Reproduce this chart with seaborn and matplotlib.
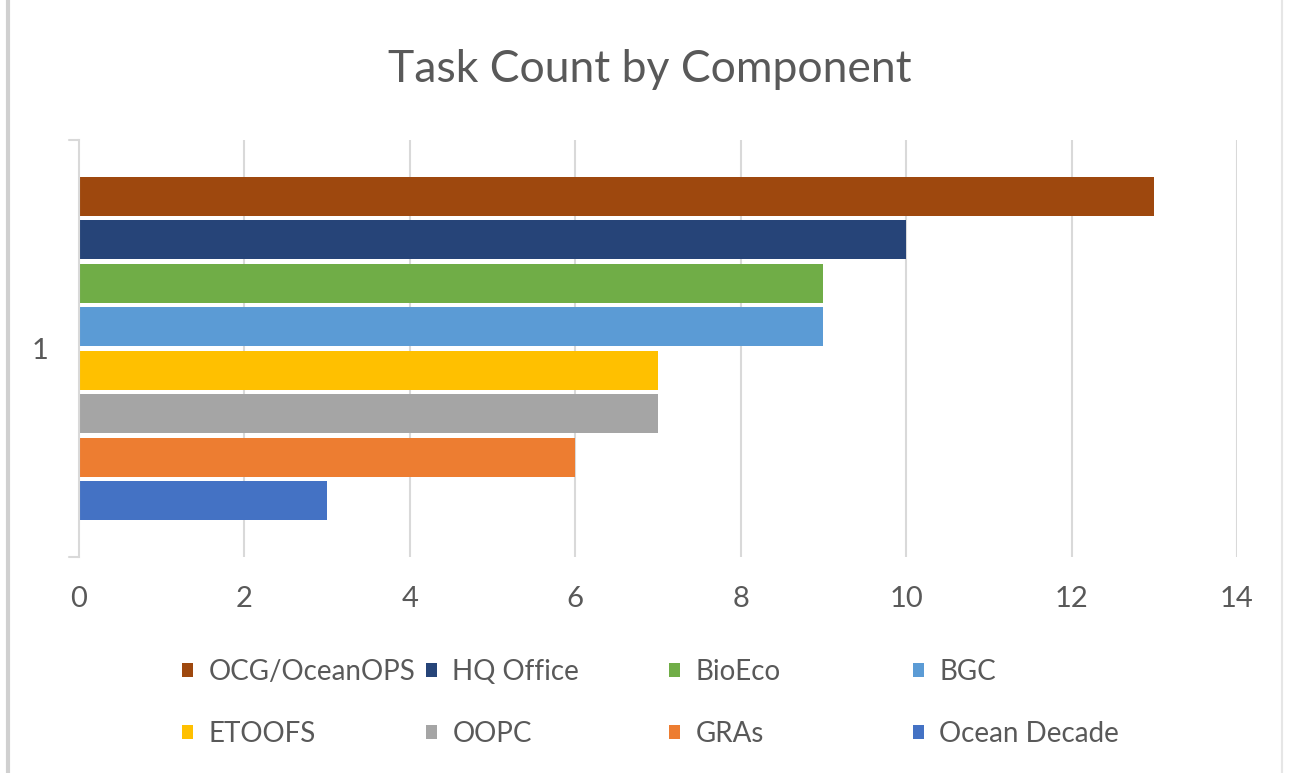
import matplotlib
matplotlib.use("Agg")
import matplotlib.pyplot as plt
import seaborn as sns
import pandas as pd
from matplotlib.patches import Patch
from matplotlib.lines import Line2D

components = ["OCG/OceanOPS", "HQ Office", "BioEco", "BGC",
              "ETOOFS", "OOPC", "GRAs", "Ocean Decade"]
counts = [13, 10, 9, 9, 7, 7, 6, 3]
colors = ["#9E480E", "#264478", "#70AD47", "#5B9BD5",
          "#FFC000", "#A5A5A5", "#ED7D31", "#4472C4"]
category = ["1"] * len(components)
x_ticks = [0, 2, 4, 6, 8, 10, 12, 14]

sns.set_theme(style="white")
plt.rcParams["font.family"] = ["Lato", "DejaVu Sans"]
text_color = "#595959"
grid_color = "#D9D9D9"

df = pd.DataFrame({"cat": category, "component": components, "count": counts})

fig = plt.figure(figsize=(12.9, 7.73), dpi=100)
ax = fig.add_axes([79 / 1290, 1 - 557 / 773, (1237 - 79) / 1290, (557 - 140) / 773])

sns.barplot(data=df, y="cat", x="count", hue="component", hue_order=components,
            palette=colors, orient="h", width=0.835, gap=0.1, ax=ax,
            legend=False, saturation=1, edgecolor="none", zorder=3)

ax.set_xlim(0, 14)
ax.set_ylim(0.5, -0.5)
ax.set_xticks(x_ticks)
ax.set_xticklabels([str(t) for t in x_ticks], fontsize=21, color=text_color)
ax.set_yticks([0])
ax.set_yticklabels(["1"], fontsize=21, color=text_color)
ax.tick_params(axis="x", length=0, pad=21)
ax.tick_params(axis="y", length=0, pad=22)
ax.set_xlabel("")
ax.set_ylabel("")
for t in x_ticks[1:]:
    ax.axvline(t, color=grid_color, lw=1.5, zorder=1)
for s in ["top", "right", "bottom"]:
    ax.spines[s].set_visible(False)
ax.spines["left"].set_color(grid_color)
ax.spines["left"].set_linewidth(1.5)
ax.spines["left"].set_zorder(4)
# small end ticks on category axis
ax.plot([-0.12, 0], [-0.5, -0.5], color=grid_color, lw=1.5, clip_on=False)
ax.plot([-0.12, 0], [0.5, 0.5], color=grid_color, lw=1.5, clip_on=False)

fig.text(0.504, 1 - 82 / 773, "Task Count by Component", ha="center", va="baseline",
         fontsize=32, color=text_color)

# legend: 4 equal columns, 2 rows
col_x = [182, 426, 669, 913]
for c in range(4):
    idx = [c, c + 4]
    handles = [Patch(facecolor=colors[i], edgecolor="none") for i in idx]
    labels = [components[i] for i in idx]
    fig.legend(handles, labels, loc="upper left",
               bbox_to_anchor=(col_x[c] / 1290, 1 - 659 / 773),
               frameon=False, fontsize=20, handlelength=0.4, handleheight=0.4,
               handletextpad=0.55, labelspacing=1.3, borderpad=0, borderaxespad=0,
               labelcolor=text_color)

fig.add_artist(Line2D([7.5 / 1290, 7.5 / 1290], [0, 1], transform=fig.transFigure,
                      color="#D0D0D0", lw=3))
fig.add_artist(Line2D([1282 / 1290, 1282 / 1290], [0, 1], transform=fig.transFigure,
                      color="#E6E6E6", lw=1.5))

fig.savefig("out.png", dpi=100, facecolor="white")
